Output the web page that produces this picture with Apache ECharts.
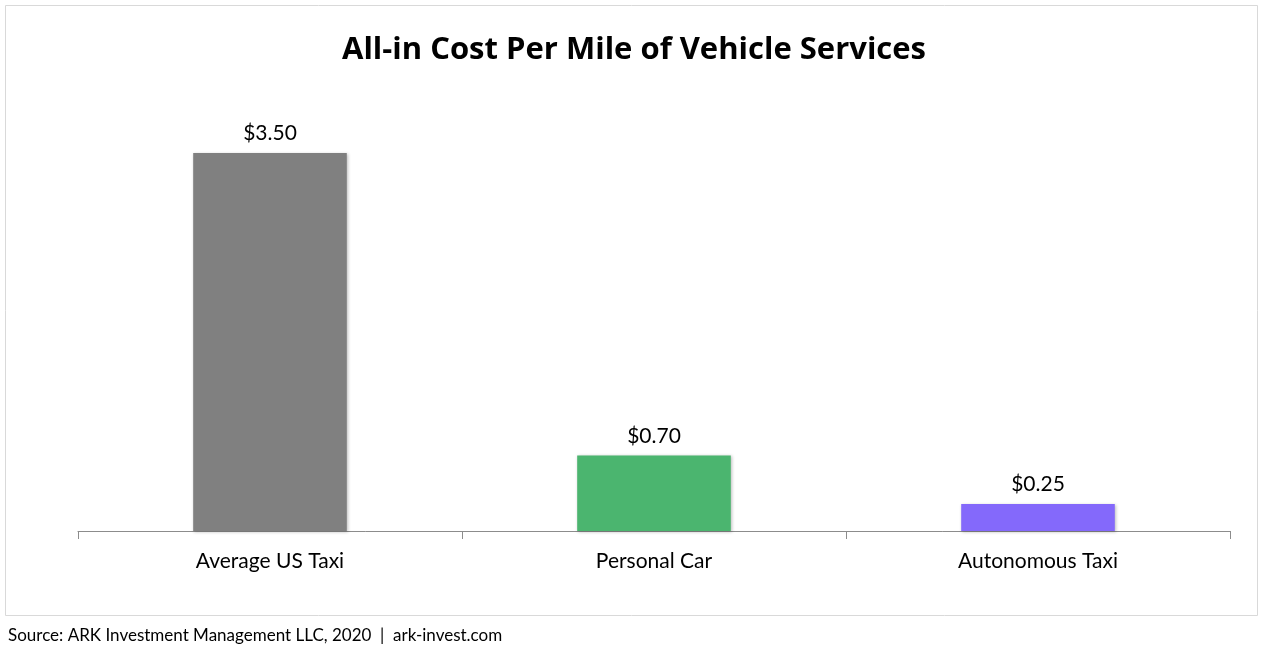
<!DOCTYPE html>
<html><head><meta charset="utf-8">
<script src="https://cdn.jsdelivr.net/npm/echarts@6/dist/echarts.min.js"></script>
<style>html,body{margin:0;padding:0;background:#fff;}#c{width:1268px;height:649px;}</style>
</head><body><div id="c"></div>
<script>
const categories = ['Average US Taxi', 'Personal Car', 'Autonomous Taxi'];
const values = [3.50, 0.70, 0.25];
const barColors = ['#808080', '#4bb56f', '#8469fb'];
const titleText = 'All-in Cost Per Mile of Vehicle Services';
const sourceText = 'Source: ARK Investment Management LLC, 2020  |  ark-invest.com';

const chart = echarts.init(document.getElementById('c'));
chart.setOption({
  animation: false,
  backgroundColor: '#fff',
  title: {
    text: titleText, left: 'center', top: 30,
    textStyle: { fontFamily: 'Open Sans', fontWeight: 'bold', fontSize: 31, color: '#000' }
  },
  graphic: [
    { type: 'rect', shape: { x: 5.5, y: 5.5, width: 1252, height: 610 },
      style: { fill: 'none', stroke: '#d9d9d9', lineWidth: 1 }, z: -1 },
    { type: 'text', left: 8, top: 627,
      style: { text: sourceText, fontFamily: 'Lato', fontSize: 17, fill: '#000' } }
  ],
  grid: { left: 78, right: 38, top: 99, bottom: 118 },
  xAxis: {
    type: 'category', data: categories,
    axisLine: { lineStyle: { color: '#8c8c8c', width: 1 } },
    axisTick: { show: true, length: 8, lineStyle: { color: '#8c8c8c' } },
    axisLabel: { fontFamily: 'Lato', fontSize: 21, color: '#000', margin: 20 }
  },
  yAxis: { type: 'value', min: 0, max: 4, show: false, splitLine: { show: false } },
  series: [{
    type: 'bar', barWidth: '40%',
    data: values.map((v, i) => ({ value: v, itemStyle: { color: barColors[i] } })),
    itemStyle: { shadowColor: 'rgba(0,0,0,0.25)', shadowBlur: 3, shadowOffsetX: 1, shadowOffsetY: 1 },
    label: {
      show: true, position: 'top', distance: 9,
      fontFamily: 'Lato', fontSize: 21, color: '#000',
      formatter: p => '$' + p.value.toFixed(2)
    }
  }]
});
</script></body></html>
